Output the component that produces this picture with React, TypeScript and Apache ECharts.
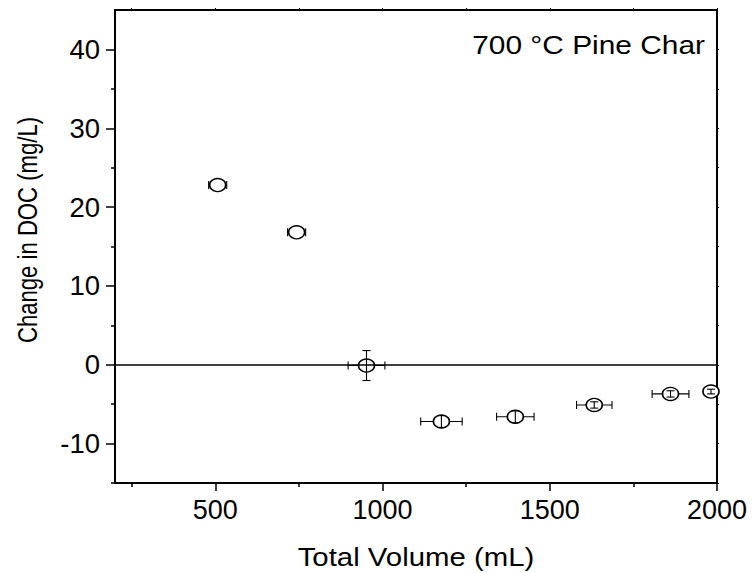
import React, { useEffect, useRef } from "react";
import * as echarts from "echarts";

const volumes = [507, 743, 952, 1176, 1397, 1633, 1861, 1982];
const docChange = [22.8, 16.8, -0.1, -7.2, -6.6, -5.1, -3.7, -3.4];
const volumeErr = [27, 27, 55, 62, 56, 53, 55, 12];
const docErr = [0, 0, 1.9, 0.75, 0.75, 0.4, 0.4, 0.3];

const xMajorTicks = [500, 1000, 1500, 2000];
const xMinorTicks = [250, 750, 1250, 1750];
const yMajorTicks = [-10, 0, 10, 20, 30, 40];
const yMinorTicks = [-15, -5, 5, 15, 25, 35];

const FONT = "'Liberation Sans', Arial, Helvetica, sans-serif";

export default function App() {
  const ref = useRef<HTMLDivElement>(null);
  useEffect(() => {
    if (!ref.current) return;
    const chart = echarts.init(ref.current, undefined, { renderer: "svg" });
    const black = "#000";
    const xRange = { min: 200, max: 2000 };
    const yRange = { min: -15, max: 45 };
    const points = volumes.map((v, i) => [v, docChange[i]]);
    const xErrData = volumes.map((v, i) => [v, docChange[i], v - volumeErr[i], v + volumeErr[i]]);
    const yErrData = volumes.map((v, i) => [v, docChange[i], docChange[i] - docErr[i], docChange[i] + docErr[i]]);
    const barStyle = { stroke: black, lineWidth: 1.1 };
    const cap = 4;
    const plain = (v: number) => String(v);

    chart.setOption({
      animation: false,
      backgroundColor: "#fff",
      grid: { left: 115, right: 38, top: 10, bottom: 90, containLabel: false },
      xAxis: [
        {
          type: "value", ...xRange, position: "bottom",
          axisLine: { show: true, onZero: false, lineStyle: { color: black, width: 2 } },
          axisTick: { show: true, customValues: xMajorTicks, length: 8, lineStyle: { color: black, width: 1.5 } },
          axisLabel: { show: true, customValues: xMajorTicks, formatter: plain, fontSize: 27, color: black, fontFamily: FONT, margin: 13 },
          splitLine: { show: false },
        },
        {
          type: "value", ...xRange, position: "bottom",
          axisLine: { show: false, onZero: false },
          axisTick: { show: true, customValues: xMinorTicks, length: 4, lineStyle: { color: black, width: 1.5 } },
          axisLabel: { show: false },
          splitLine: { show: false },
        },
        {
          type: "value", ...xRange, position: "top",
          axisLine: { show: true, onZero: false, lineStyle: { color: black, width: 2 } },
          axisTick: { show: true, customValues: [...xMinorTicks, ...xMajorTicks], length: 2, lineStyle: { color: black, width: 1 } },
          axisLabel: { show: false },
          splitLine: { show: false },
        },
      ],
      yAxis: [
        {
          type: "value", ...yRange, position: "left",
          axisLine: { show: true, onZero: false, lineStyle: { color: black, width: 2 } },
          axisTick: { show: true, customValues: yMajorTicks, length: 9, lineStyle: { color: black, width: 1.5 } },
          axisLabel: { show: true, customValues: yMajorTicks, formatter: plain, fontSize: 27.5, color: black, fontFamily: FONT, margin: 15 },
          splitLine: { show: false },
        },
        {
          type: "value", ...yRange, position: "left",
          axisLine: { show: false, onZero: false },
          axisTick: { show: true, customValues: yMinorTicks, length: 4, lineStyle: { color: black, width: 1.5 } },
          axisLabel: { show: false },
          splitLine: { show: false },
        },
        {
          type: "value", ...yRange, position: "right",
          axisLine: { show: true, onZero: false, lineStyle: { color: black, width: 2 } },
          axisTick: { show: true, customValues: [...yMinorTicks, ...yMajorTicks], length: 2, lineStyle: { color: black, width: 1 } },
          axisLabel: { show: false },
          splitLine: { show: false },
        },
      ],
      graphic: [
        {
          type: "text", x: 416, y: 557, scaleX: 1.13, scaleY: 1,
          style: { text: "Total Volume (mL)", fontSize: 26, fontFamily: FONT, fill: black, textAlign: "center", textVerticalAlign: "middle" },
        },
        {
          type: "text", x: 27, y: 230, rotation: Math.PI / 2, scaleX: 0.79, scaleY: 1,
          style: { text: "Change in DOC (mg/L)", fontSize: 28, fontFamily: FONT, fill: black, textAlign: "center", textVerticalAlign: "middle" },
        },
        {
          type: "text", x: 705, y: 45, scaleX: 1.15, scaleY: 1,
          style: { text: "700 °C Pine Char", fontSize: 26, fontFamily: FONT, fill: black, textAlign: "right", textVerticalAlign: "middle" },
        },
      ],
      series: [
        {
          type: "custom", xAxisIndex: 0, yAxisIndex: 0, z: 2, clip: false,
          data: xErrData,
          encode: { x: 0, y: 1 },
          renderItem: (params: any, api: any) => {
            const y = api.value(1);
            const p1 = api.coord([api.value(2), y]);
            const p2 = api.coord([api.value(3), y]);
            return {
              type: "group",
              children: [
                { type: "line", shape: { x1: p1[0], y1: p1[1], x2: p2[0], y2: p2[1] }, style: barStyle },
                { type: "line", shape: { x1: p1[0], y1: p1[1] - cap, x2: p1[0], y2: p1[1] + cap }, style: barStyle },
                { type: "line", shape: { x1: p2[0], y1: p2[1] - cap, x2: p2[0], y2: p2[1] + cap }, style: barStyle },
              ],
            };
          },
        },
        {
          type: "scatter", xAxisIndex: 0, yAxisIndex: 0, z: 3, clip: false,
          data: points,
          symbol: "circle",
          symbolSize: [16, 13],
          itemStyle: { color: "#fff", borderColor: black, borderWidth: 1.5, opacity: 1 },
          markLine: {
            silent: true, symbol: "none", animation: false,
            label: { show: false },
            lineStyle: { color: black, width: 1.5, type: "solid" },
            data: [{ yAxis: 0 }],
          },
        },
        {
          type: "custom", xAxisIndex: 0, yAxisIndex: 0, z: 4, clip: false,
          data: yErrData,
          encode: { x: 0, y: 1 },
          renderItem: (params: any, api: any) => {
            const x = api.value(0);
            const lo = api.value(2);
            const hi = api.value(3);
            if (hi - lo <= 0) return { type: "group", children: [] };
            const p1 = api.coord([x, lo]);
            const p2 = api.coord([x, hi]);
            return {
              type: "group",
              children: [
                { type: "line", shape: { x1: p1[0], y1: p1[1], x2: p2[0], y2: p2[1] }, style: barStyle },
                { type: "line", shape: { x1: p1[0] - cap, y1: p1[1], x2: p1[0] + cap, y2: p1[1] }, style: barStyle },
                { type: "line", shape: { x1: p2[0] - cap, y1: p2[1], x2: p2[0] + cap, y2: p2[1] }, style: barStyle },
              ],
            };
          },
        },
      ],
    });
    return () => chart.dispose();
  }, []);
  return <div ref={ref} style={{ position: "fixed", left: 0, top: 0, width: 755, height: 573 }} />;
}
